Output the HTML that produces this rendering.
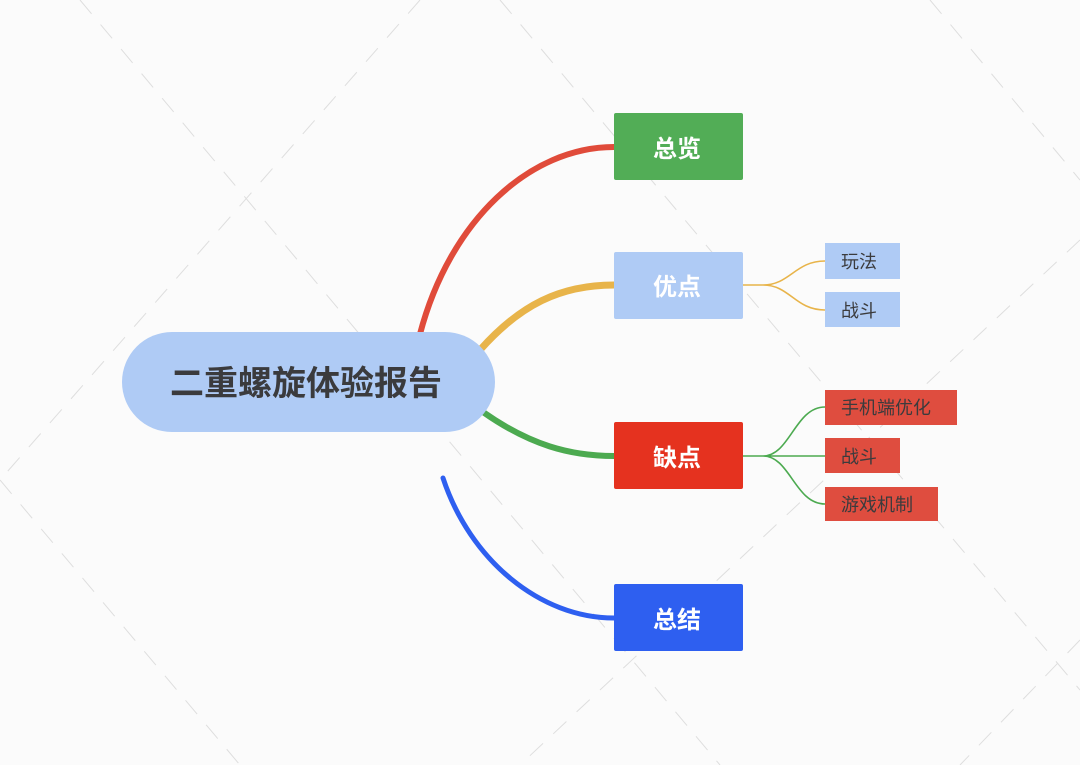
<!DOCTYPE html>
<html><head><meta charset="utf-8"><style>
html,body{margin:0;padding:0;background:#fbfbfb;}
svg{display:block;}
text{font-family:"Liberation Sans","Noto Sans CJK SC",sans-serif;}
</style></head><body>
<svg width="1080" height="765" viewBox="0 0 1080 765" xmlns="http://www.w3.org/2000/svg">
<rect width="1080" height="765" fill="#fbfbfb"/>
<g stroke="#dedede" stroke-width="1" stroke-dasharray="18,14" fill="none">
<line x1="80" y1="0" x2="720" y2="765"/>
<line x1="500" y1="0" x2="1080" y2="690"/>
<line x1="930" y1="0" x2="1080" y2="180"/>
<line x1="0" y1="480" x2="240" y2="765"/>
<line x1="420" y1="0" x2="0" y2="480"/>
<line x1="1080" y1="240" x2="520" y2="765"/>
<line x1="1080" y1="640" x2="960" y2="765"/>
</g>
<g fill="none" stroke-linecap="round">
<path d="M420,334 C450,220 530,147 614,147" stroke="#e04b3a" stroke-width="6"/>
<path d="M480,350 C520,305 560,285 614,285" stroke="#e8b44a" stroke-width="7"/>
<path d="M483,412 C530,445 570,456 614,456" stroke="#4caa50" stroke-width="6"/>
<path d="M443,478 C470,560 540,618 614,618" stroke="#2e5ff0" stroke-width="5"/>
<path d="M743,285 H763 C790,285 795,261 825,261 M763,285 C790,285 795,310 825,310" stroke="#e8b44a" stroke-width="1.6"/>
<path d="M743,456 H825 M763,456 C790,456 795,407 825,407 M763,456 C790,456 795,504 825,504" stroke="#4caa50" stroke-width="1.6"/>
</g>
<rect x="122" y="332" width="373" height="100" rx="50" fill="#afcbf5"/>
<text x="306" y="395" font-size="34" font-weight="bold" fill="#3b3b3d" text-anchor="middle">二重螺旋体验报告</text>
<rect x="614" y="113" width="129" height="67" rx="2" fill="#52ad56"/>
<text x="677" y="157" font-size="24" font-weight="bold" fill="#fff" text-anchor="middle">总览</text>
<rect x="614" y="252" width="129" height="67" rx="2" fill="#afcbf5"/>
<text x="677" y="295" font-size="24" font-weight="bold" fill="#fff" text-anchor="middle">优点</text>
<rect x="614" y="422" width="129" height="67" rx="2" fill="#e5321f"/>
<text x="677" y="466" font-size="24" font-weight="bold" fill="#fff" text-anchor="middle">缺点</text>
<rect x="614" y="584" width="129" height="67" rx="2" fill="#2e5ff0"/>
<text x="677" y="628" font-size="24" font-weight="bold" fill="#fff" text-anchor="middle">总结</text>
<g font-size="18" fill="#3b3b3d">
<rect x="825" y="243" width="75" height="36" fill="#afcbf5"/><text x="841" y="268">玩法</text>
<rect x="825" y="292" width="75" height="35" fill="#afcbf5"/><text x="841" y="317">战斗</text>
<rect x="825" y="390" width="132" height="35" fill="#df4d3f"/><text x="841" y="414">手机端优化</text>
<rect x="825" y="438" width="75" height="35" fill="#df4d3f"/><text x="841" y="463">战斗</text>
<rect x="825" y="487" width="113" height="34" fill="#df4d3f"/><text x="841" y="511">游戏机制</text>
</g>
</svg>
</body></html>
